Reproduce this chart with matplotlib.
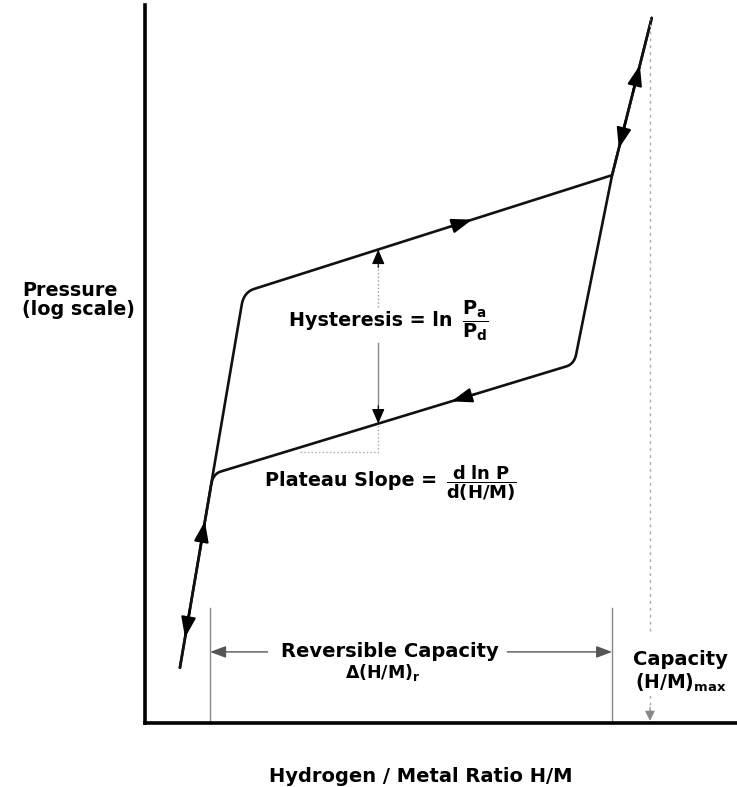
import numpy as np
import matplotlib
matplotlib.use("Agg")
import matplotlib.pyplot as plt

plt.rcParams['font.family'] = 'DejaVu Sans'
plt.rcParams['mathtext.fontset'] = 'dejavusans'

# schematic: H/M on x, log P on y, both in arbitrary units 0-100
# absorption branch (low steep -> upper plateau -> high steep)
abs_hm = [5.9, 16.7, 78.9, 85.6]
abs_logp = [7.7, 60.0, 76.3, 98.2]
abs_round = {1: 1.8}
# desorption branch (high steep -> lower plateau -> low steep)
des_hm = [85.6, 78.9, 72.5, 11.5, 5.9]
des_logp = [98.2, 76.3, 50.0, 34.7, 7.7]
des_round = {2: 1.4, 3: 1.4}

# arrows on the curve: (x0, y0, x1, y1, fraction along segment)
curve_arrows = [
    (5.9, 7.7, 16.7, 60.0, 0.39),     # up, low steep part
    (16.7, 60.0, 5.9, 7.7, 0.92),     # down, low steep part
    (16.7, 60.0, 78.9, 76.3, 0.62),   # right, upper plateau
    (72.5, 50.0, 11.5, 34.7, 0.34),   # left, lower plateau
    (78.9, 76.3, 85.6, 98.2, 0.70),   # up, high steep part
    (85.6, 98.2, 78.9, 76.3, 0.83),   # down, high steep part
]

rev_cap = [11.0, 78.9]     # reversible capacity limits
rev_cap_y = 9.9
max_cap = 85.3
hyst_hm = 39.4
slope_hm = 26.2


def round_corners(xs, ys, radius):
    pts = np.column_stack([xs, ys]).astype(float)
    out = [pts[0]]
    for i in range(1, len(pts) - 1):
        p = pts[i]
        if i in radius:
            r = radius[i]
            u = pts[i - 1] - p
            v = pts[i + 1] - p
            p0 = p + u / np.linalg.norm(u) * r
            p2 = p + v / np.linalg.norm(v) * r
            t = np.linspace(0, 1, 15)[:, None]
            out.extend((1 - t) ** 2 * p0 + 2 * (1 - t) * t * p + t ** 2 * p2)
        else:
            out.append(p)
    out.append(pts[-1])
    out = np.array(out)
    return out[:, 0], out[:, 1]


fig = plt.figure(figsize=(7.37, 7.87), dpi=100)
ax = fig.add_axes([145 / 737, 64 / 787, 592 / 737, 718 / 787])
ax.set_xlim(0, 100)
ax.set_ylim(0, 100)
for s in ['top', 'right']:
    ax.spines[s].set_visible(False)
for s in ['left', 'bottom']:
    ax.spines[s].set_linewidth(2.6)
ax.set_xticks([])
ax.set_yticks([])

# isotherm
x, y = round_corners(abs_hm, abs_logp, abs_round)
ax.plot(x, y, color='#111111', lw=1.9, solid_capstyle='round')
x, y = round_corners(des_hm, des_logp, des_round)
ax.plot(x, y, color='#111111', lw=1.9, solid_capstyle='round')

for x0, y0, x1, y1, f in curve_arrows:
    tip = np.array([x0 + f * (x1 - x0), y0 + f * (y1 - y0)])
    d = np.array([x1 - x0, y1 - y0])
    d = d / np.linalg.norm(d)
    ax.annotate('', xy=tip, xytext=tip - d * 4,
                arrowprops=dict(arrowstyle='-|>,head_length=0.9,head_width=0.32',
                                mutation_scale=14, color='black', lw=1.5,
                                shrinkA=0, shrinkB=0))

# hysteresis marker
p_abs = np.interp(hyst_hm, abs_hm[1:3], abs_logp[1:3])
p_des = np.interp(hyst_hm, des_hm[3:1:-1], des_logp[3:1:-1])
ax.plot([hyst_hm, hyst_hm], [57.9, p_abs - 1.5], color='#999999', lw=1, ls=':')
ax.plot([hyst_hm, hyst_hm], [p_des + 1.5, 52.9], color='#888888', lw=1)
ax.annotate('', xy=(hyst_hm, p_abs), xytext=(hyst_hm, p_abs - 2.5),
            arrowprops=dict(arrowstyle='-|>,head_length=0.7,head_width=0.3',
                            mutation_scale=13, color='black', lw=0.8,
                            shrinkA=0, shrinkB=0))
ax.annotate('', xy=(hyst_hm, p_des), xytext=(hyst_hm, p_des + 2.5),
            arrowprops=dict(arrowstyle='-|>,head_length=0.7,head_width=0.3',
                            mutation_scale=13, color='black', lw=0.8,
                            shrinkA=0, shrinkB=0))

# slope triangle
p_left = np.interp(slope_hm, des_hm[3:1:-1], des_logp[3:1:-1])
ax.plot([slope_hm, hyst_hm, hyst_hm], [p_left - 0.6, p_left - 0.6, p_des],
        color='#aaaaaa', lw=1, ls=':')

# capacity guides
for c in rev_cap:
    ax.plot([c, c], [0, 16], color='#888888', lw=1)
ax.plot([max_cap, max_cap], [12.8, 98], color='#aaaaaa', lw=1, ls=(0, (2, 3)))
ax.plot([max_cap, max_cap], [1.5, 4.2], color='#aaaaaa', lw=1, ls=(0, (2, 3)))
ax.annotate('', xy=(max_cap, 0.3), xytext=(max_cap, 2.2),
            arrowprops=dict(arrowstyle='-|>,head_length=0.6,head_width=0.3',
                            mutation_scale=10, color='#888888', lw=0.8,
                            shrinkA=0, shrinkB=0))

ax.annotate('', xy=(rev_cap[0], rev_cap_y), xytext=(20.7, rev_cap_y),
            arrowprops=dict(arrowstyle='-|>,head_length=0.8,head_width=0.3',
                            mutation_scale=12, color='#555555', lw=1,
                            shrinkA=0, shrinkB=0))
ax.annotate('', xy=(rev_cap[1], rev_cap_y), xytext=(61.2, rev_cap_y),
            arrowprops=dict(arrowstyle='-|>,head_length=0.8,head_width=0.3',
                            mutation_scale=12, color='#555555', lw=1,
                            shrinkA=0, shrinkB=0))

# labels
bold = dict(fontweight='bold', color='black')
ax.text(51.9, 56.1, 'Hysteresis = ln', ha='right', va='center', fontsize=13.8, **bold)
ax.text(55.8, 56.0, r'$\dfrac{\mathbf{P_a}}{\mathbf{P_d}}$', ha='center',
        va='center', fontsize=14)
ax.text(49.3, 33.8, 'Plateau Slope =', ha='right', va='center', fontsize=13.8, **bold)
ax.text(56.8, 33.4, r'$\dfrac{\mathbf{d\ ln\ P}}{\mathbf{d(H/M)}}$', ha='center',
        va='center', fontsize=13)
ax.text(41.4, rev_cap_y, 'Reversible Capacity', ha='center', va='center',
        fontsize=14, **bold)
ax.text(40.2, 7.0, r'$\mathbf{\Delta(H/M)_r}$', ha='center', va='center', fontsize=12.5)
ax.text(90.4, 8.8, 'Capacity', ha='center', va='center', fontsize=14, **bold)
ax.text(90.4, 5.6, r'$\mathbf{(H/M)_{max}}$', ha='center', va='center', fontsize=13.5)

fig.text(22 / 737, 1 - 300 / 787, 'Pressure\n(log scale)', ha='left', va='center',
         fontsize=13.8, linespacing=1.05, **bold)
fig.text(421 / 737, 1 - 777 / 787, 'Hydrogen / Metal Ratio H/M', ha='center',
         va='center', fontsize=14, **bold)

fig.savefig('out.png', dpi=100, facecolor='white')
